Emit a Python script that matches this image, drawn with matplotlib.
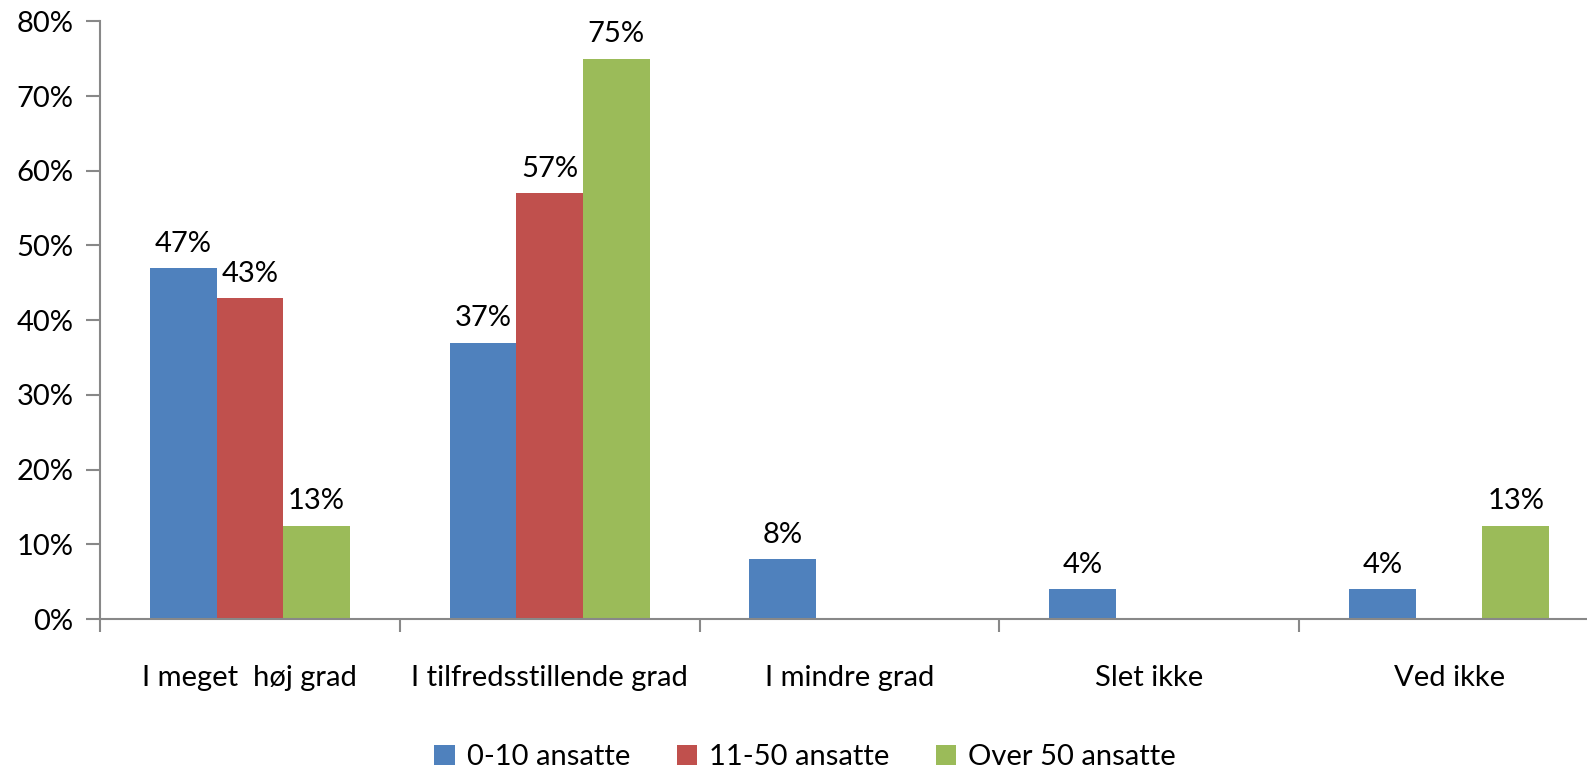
import matplotlib
matplotlib.use("Agg")
import matplotlib.pyplot as plt
import numpy as np

# data
categories = ["I meget  høj grad", "I tilfredsstillende grad", "I mindre grad", "Slet ikke", "Ved ikke"]
series_names = ["0-10 ansatte", "11-50 ansatte", "Over 50 ansatte"]
small = [47, 37, 8, 4, 4]
medium = [43, 57, 0, 0, 0]
large = [12.5, 75, 0, 0, 12.5]
colors = ["#4F81BD", "#C0504D", "#9BBB59"]

plt.rcParams['font.family'] = ['Lato', 'DejaVu Sans']

fig = plt.figure(figsize=(15.87, 7.73), dpi=100)
ax = fig.add_axes([100 / 1587, 154 / 773, 1499 / 1587, 597.7 / 773])

x = np.arange(len(categories))
w = 0.2225
for i, (vals, name, c) in enumerate(zip([small, medium, large], series_names, colors)):
    pos = x + (i - 1) * w
    bars = ax.bar(pos, vals, width=w, color=c, label=name, zorder=2)
    for b, v in zip(bars, vals):
        if v > 0:
            ax.text(b.get_x() + b.get_width() / 2, v + 1.5, f"{v:.0f}%" if v != 12.5 else "13%",
                    ha="center", va="bottom", fontsize=21)

ax.set_xlim(-0.5, len(categories) - 0.5)
ax.set_ylim(0, 80)
ax.set_yticks(range(0, 81, 10))
ax.set_yticklabels([f"{t}%" for t in range(0, 81, 10)], fontsize=21)
ax.set_xticks(np.arange(len(categories) + 1) - 0.5, minor=False)
ax.set_xticklabels([])
ax.set_xticks(x, minor=True)
ax.set_xticklabels(categories, minor=True, fontsize=21)
ax.tick_params(axis="x", which="minor", length=0, pad=33)
ax.tick_params(axis="x", which="major", direction="out", length=9, width=1.5, color="#888888")
ax.tick_params(axis="y", direction="out", length=10, width=1.5, color="#888888", pad=9)

for s in ["top", "right"]:
    ax.spines[s].set_visible(False)
for s in ["left", "bottom"]:
    ax.spines[s].set_color("#888888")
    ax.spines[s].set_linewidth(1.5)

fig.legend(loc="center", bbox_to_anchor=(805 / 1587, 1 - 757 / 773), ncol=3, frameon=False,
           fontsize=21, handlelength=0.7, handleheight=0.7, handletextpad=0.4, columnspacing=1.6)

fig.savefig("out.png", dpi=100)
